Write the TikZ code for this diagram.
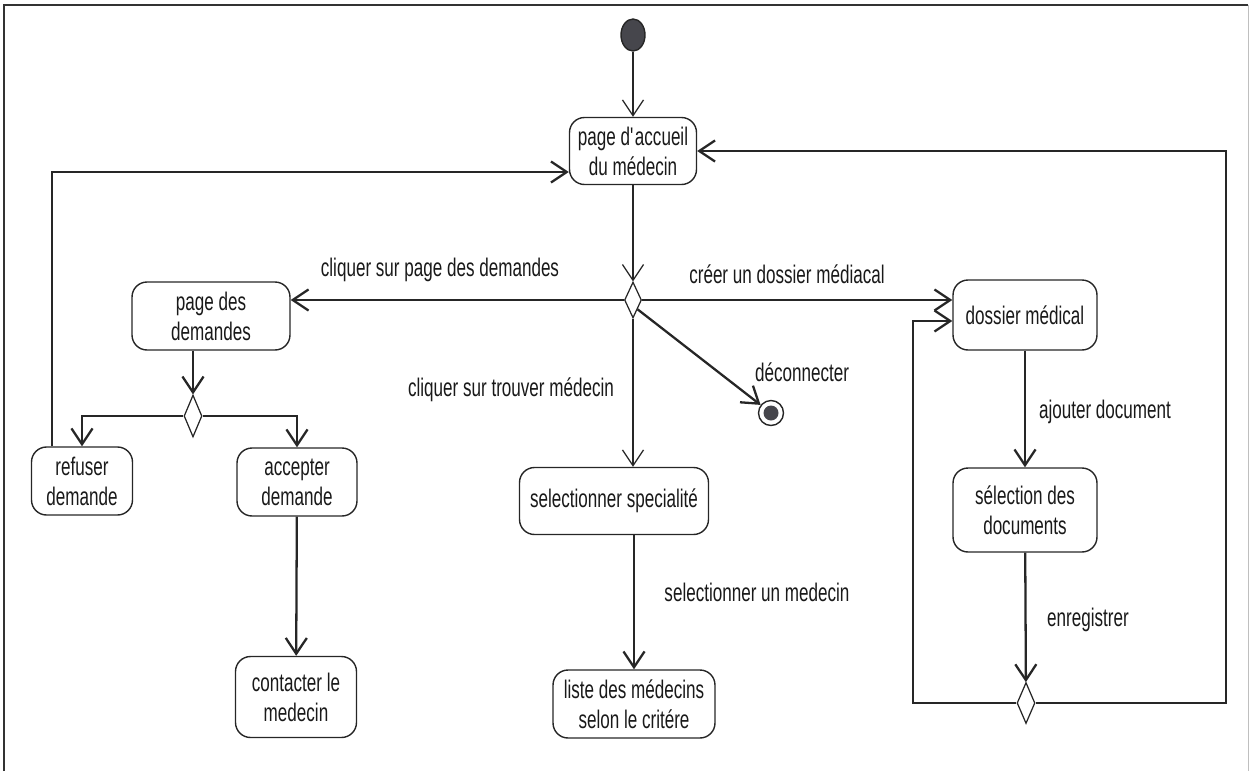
\documentclass[tikz,border=0pt]{standalone}
\usepackage{fontspec}
\setmainfont{Liberation Sans}[FakeStretch=0.67]
\usetikzlibrary{arrows.meta,shapes.geometric}
\definecolor{dot}{RGB}{70,70,76}

\begin{document}
\begin{tikzpicture}[x=0.02cm,y=-0.02cm,
  font=\fontsize{14.5}{17}\selectfont,
  activity/.style={draw=black!85,line width=0.8pt,rounded corners=0.3cm,align=center,inner sep=0pt,text=black!90},
  decision/.style={draw=black!85,line width=0.7pt,diamond,inner sep=0pt,fill=white},
  flow/.style={draw=black!85,line width=1.3pt,-{Straight Barb[length=9pt,width=12pt]}},
  thinflow/.style={flow,line width=0.7pt},
  lbl/.style={text=black!90,inner sep=0pt}
]
\useasboundingbox (0,0) rectangle (1250,771);

% page frame
\draw[line width=1pt,black!80] (4,771) -- (4,5) -- (1248,5);
\draw[black!25] (1248,5) -- (1248,771);

% initial and final states
\node[ellipse,draw=black!85,fill=dot,line width=0.8pt,
      minimum width=0.48cm,minimum height=0.64cm,inner sep=0pt] (init) at (633,35) {};
\node[circle,draw=black!85,line width=0.8pt,minimum size=0.5cm,inner sep=0pt] (fin) at (771,413) {};
\fill[dot] (fin.center) circle (0.15cm);

% activities
\node[activity,minimum width=2.54cm,minimum height=1.34cm] (accueil) at (633,151) {page d\textquotesingle accueil\\du médecin};
\node[activity,minimum width=3.16cm,minimum height=1.36cm] (pd) at (211,316) {page des\\demandes};
\node[activity,minimum width=2.02cm,minimum height=1.36cm] (refuser) at (82,481) {refuser\\demande};
\node[activity,minimum width=2.40cm,minimum height=1.36cm] (accepter) at (297,482) {accepter\\demande};
\node[activity,minimum width=2.42cm,minimum height=1.62cm] (contact) at (296,697) {contacter le\\medecin};
\node[activity,minimum width=3.78cm,minimum height=1.34cm] (spec) at (614,501) {selectionner specialité};
\node[activity,minimum width=3.24cm,minimum height=1.36cm] (liste) at (634,704) {liste des médecins\\selon le critére};
\node[activity,minimum width=2.88cm,minimum height=1.40cm] (dossier) at (1025,315) {dossier médical};
\node[activity,minimum width=2.88cm,minimum height=1.68cm] (select) at (1025,510) {sélection des\\documents};

% decisions
\node[decision,minimum width=0.34cm,minimum height=0.72cm] (dec1) at (633,300) {};
\node[decision,minimum width=0.36cm,minimum height=0.84cm] (dec2) at (193,416) {};
\node[decision,minimum width=0.36cm,minimum height=0.82cm] (dec3) at (1026,703) {};

% loop corners
\coordinate (loopR) at (1226,151);
\coordinate (loopD) at (913,321);

% transitions
\draw[thinflow] (init) -- (accueil);
\draw[thinflow] (accueil) -- (dec1);
\draw[flow] (dec1.west) -- (pd.east |- dec1.west);
\draw[flow] (dec1.east) -- (dossier.west |- dec1.east);
\draw[flow] (dec1.south east) -- (fin);
\draw[thinflow] (dec1.south) -- (dec1.south |- spec.north);
\draw[flow] (liste.north |- spec.south) -- (liste.north);
\draw[flow] (dec2.north |- pd.south) -- (dec2.north);
\draw[flow] (dec2.west) -| (refuser.north);
\draw[flow] (dec2.east) -| (accepter.north);
\draw[flow] (accepter) -- (contact);
\draw[flow] ([xshift=-0.6cm]refuser.north) |- ([yshift=-0.42cm]accueil.west);
\draw[flow] (dossier) -- (select);
\draw[flow] (select) -- (dec3);
\draw[flow] (dec3.east) -| (loopR) -- (accueil.east);
\draw[flow] (dec3.west) -| (loopD) -- (dossier.west |- loopD);

% guards
\node[lbl] (gDem) at (440,270) {cliquer sur page des demandes};
\node[lbl] (gDos) at (787,274) {créer un dossier médiacal};
\node[lbl] (gTrv) at (511,390) {cliquer sur trouver médecin};
\node[lbl] (gDec) at (802,372) {déconnecter};
\node[lbl] (gMed) at (757,592) {selectionner un medecin};
\node[lbl] (gAjt) at (1105,412) {ajouter document};
\node[lbl] (gEnr) at (1088,620) {enregistrer};
\end{tikzpicture}
\end{document}
